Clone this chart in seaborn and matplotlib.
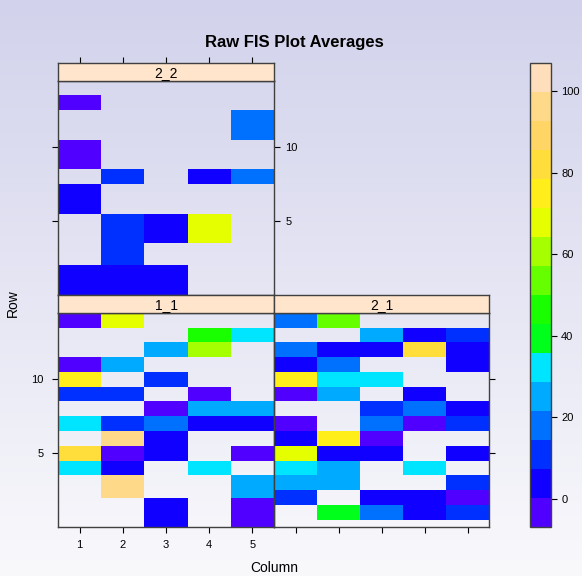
import numpy as np
import pandas as pd
import matplotlib.pyplot as plt
from matplotlib.colors import ListedColormap
import seaborn as sns

sns.set_theme(style="ticks")
plt.rcParams['font.family'] = ['Liberation Sans', 'DejaVu Sans']
plt.rcParams['text.color'] = 'black'

nan = np.nan
columns = [1, 2, 3, 4, 5]

# rows listed top to bottom, one value per column (nan = no data)
rows_2_2 = [14, 13, 12, 9, 8, 7, 4, 3, 1]
vals_2_2 = [
    [nan, nan, nan, nan, nan],
    [0, nan, nan, nan, nan],
    [nan, nan, nan, nan, 18],
    [0, nan, nan, nan, nan],
    [nan, 11, nan, 4, 18],
    [4, nan, nan, nan, nan],
    [nan, 11, 4, 68, nan],
    [nan, 11, nan, nan, nan],
    [4, 4, 4, nan, nan],
]

rows_1_1 = [14, 13, 12, 11, 10, 9, 8, 7, 6, 5, 4, 3, 1]
vals_1_1 = [
    [0, 68, nan, nan, nan],
    [nan, nan, nan, 46, 32],
    [nan, nan, 25, 61, nan],
    [0, 25, nan, nan, nan],
    [75, nan, 11, nan, nan],
    [11, 11, nan, 0, nan],
    [nan, nan, 0, 25, 25],
    [32, 11, 18, 4, 4],
    [nan, 96, 4, nan, nan],
    [82, 0, 4, nan, 0],
    [32, 4, nan, 32, nan],
    [nan, 96, nan, nan, 25],
    [nan, nan, 4, nan, 0],
]

rows_2_1 = [14, 13, 12, 11, 10, 9, 8, 7, 6, 5, 4, 3, 2, 1]
vals_2_1 = [
    [18, 54, nan, nan, nan],
    [nan, nan, 25, 4, 11],
    [18, 4, 4, 82, 4],
    [4, 18, nan, nan, 4],
    [75, 32, 32, nan, nan],
    [0, 25, nan, 4, nan],
    [nan, nan, 11, 18, 4],
    [0, nan, 18, 0, 11],
    [4, 75, 0, nan, nan],
    [68, 4, 4, nan, 4],
    [32, 25, nan, 32, nan],
    [25, 25, nan, nan, 11],
    [11, nan, 4, 4, 0],
    [nan, 39, 18, 4, 11],
]

level_colors = ['#5000ff', '#1000ff', '#0030ff', '#0070ff', '#00aaff', '#00e5ff',
                '#00ff1a', '#1aff00', '#66ff00', '#a6ff00', '#e5ff00', '#ffee1a',
                '#ffdd3a', '#ffd566', '#ffd98a', '#ffdfbb']
level_min, level_max = -7, 107
color_ticks = [0, 20, 40, 60, 80, 100]
row_ticks = [5, 10]
y_top = 14.5

cmap = ListedColormap(level_colors)
W, H = 582, 576
fig = plt.figure(figsize=(W / 100, H / 100), dpi=100)


def box(x0, y0, x1, y1):
    return [x0 / W, 1 - y1 / H, (x1 - x0) / W, (y1 - y0) / H]


# background gradient
bg = fig.add_axes([0, 0, 1, 1], zorder=-10)
top = np.array([210, 210, 236]) / 255
bottom = np.array([249, 249, 252]) / 255
grad = np.linspace(0, 1, 256)[:, None, None]
bg.imshow(top + (bottom - top) * grad, aspect='auto', extent=[0, 1, 0, 1])
bg.axis('off')


def fine_grid(rows, vals):
    # cell edges halfway between present rows, like lattice levelplot
    r = np.array(rows, float)
    order = np.argsort(r)
    r = r[order]
    v = np.array(vals, float)[order]
    edges = np.concatenate([[(3 * r[0] - r[1]) / 2], (r[:-1] + r[1:]) / 2,
                            [(3 * r[-1] - r[-2]) / 2]])
    centers = np.arange(0.25, y_top, 0.5)
    grid = np.full((len(centers), len(columns)), nan)
    for i, c in enumerate(centers):
        j = np.searchsorted(edges, c) - 1
        if 0 <= j < len(r):
            grid[i] = v[j]
    return pd.DataFrame(grid, columns=columns)


panels = [
    ('2_2', rows_2_2, vals_2_2, (58, 80.7, 274, 295)),
    ('1_1', rows_1_1, vals_1_1, (58, 312.7, 274, 527.3)),
    ('2_1', rows_2_1, vals_2_1, (274, 312.7, 489, 527.3)),
]

tl = 4.3
edge = '#404040'
axes = {}
for name, rows, vals, (x0, y0, x1, y1) in panels:
    ax = fig.add_axes(box(x0, y0, x1, y1))
    ax.set_facecolor('none')
    grid = fine_grid(rows, vals)
    sns.heatmap(grid, ax=ax, cmap=cmap, vmin=level_min, vmax=level_max, cbar=False,
                xticklabels=False, yticklabels=False)
    ax.set_ylim(0, len(grid))
    ax.set_xlim(0, len(columns))
    for sp in ax.spines.values():
        sp.set_visible(True)
        sp.set_color(edge)
        sp.set_linewidth(1)
    ax.set_xticks(np.arange(len(columns)) + 0.5, [str(c) for c in columns])
    ax.set_yticks([2 * t for t in row_ticks], [str(t) for t in row_ticks])
    ax.set_xlabel('')
    ax.set_ylabel('')
    ax.tick_params(direction='out', length=tl, width=0.8, color='black',
                   labelsize=8, labelcolor='black', pad=3)
    axes[name] = ax

    st = fig.add_axes(box(x0, y0 - 17.5, x1, y0))
    st.set_facecolor('#ffe5cc')
    st.set_xlim(0, len(columns))
    st.set_yticks([])
    st.set_xticks([])
    for sp in st.spines.values():
        sp.set_color(edge)
        sp.set_linewidth(1)
    st.text(0.5, 0.45, name, transform=st.transAxes, ha='center', va='center',
            fontsize=10, color='black')
    if name == '2_2':
        st.set_xticks(np.arange(len(columns)) + 0.5)
        st.tick_params(axis='x', top=True, bottom=False, labeltop=False,
                       labelbottom=False, direction='out', length=tl, width=0.8,
                       color='black')

a = axes['2_2']
a.tick_params(axis='x', bottom=False, labelbottom=False)
a.tick_params(axis='y', left=True, right=True, labelleft=False, labelright=True, pad=4)
a = axes['1_1']
a.tick_params(axis='x', bottom=True, labelbottom=True, pad=5)
a.tick_params(axis='y', left=True, right=False, labelleft=True, labelright=False, pad=6)
a = axes['2_1']
a.tick_params(axis='x', bottom=True, labelbottom=False)
a.tick_params(axis='y', left=False, right=True, labelleft=False, labelright=False)

cax = fig.add_axes(box(530, 63, 551, 527))
cb = fig.colorbar(axes['1_1'].collections[0], cax=cax, ticks=color_ticks)
cb.outline.set_edgecolor(edge)
cb.outline.set_linewidth(1)
cax.tick_params(direction='out', length=tl, width=0.8, labelsize=8, pad=3,
                color='black', labelcolor='black')

fig.text(294 / W, 1 - 43 / H, 'Raw FIS Plot Averages', ha='center', va='center',
         fontsize=12, fontweight='bold')
fig.text(274 / W, 1 - 568 / H, 'Column', ha='center', va='center', fontsize=10)
fig.text(13 / W, 1 - 303 / H, 'Row', ha='center', va='center', rotation=90, fontsize=10)

fig.savefig('out.png', dpi=100)
